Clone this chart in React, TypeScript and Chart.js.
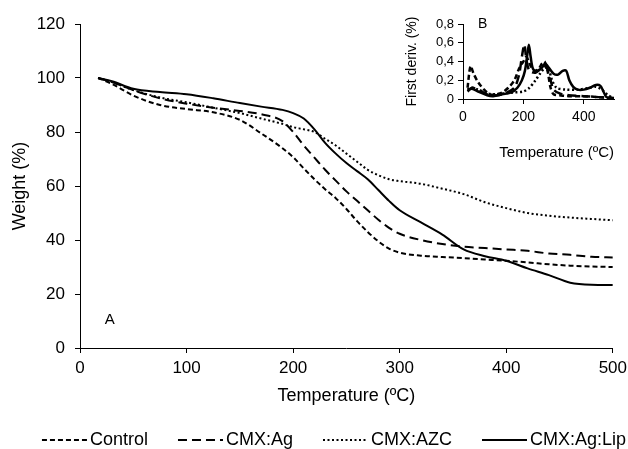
import React, { useEffect, useRef } from "react";
import { Chart, registerables } from "chart.js";

Chart.register(...registerables);

const FONT = "'Liberation Sans', Arial, Helvetica, sans-serif";

// ---- Main TGA chart (A) ----
const temps = [17, 30, 50, 75, 100, 125, 150, 170, 190, 200, 210, 220, 230, 240, 250, 260, 270, 280, 290, 300, 320, 340, 360, 380, 400, 420, 440, 460, 480, 500];
const control = [100, 97.8, 93.5, 90, 88.5, 87.3, 84.5, 79.5, 74, 70.7, 66.5, 62.5, 58.8, 55.5, 51.5, 47, 43, 39.5, 36.8, 35.3, 34.2, 33.7, 33.3, 32.8, 32.3, 31.7, 31, 30.5, 30.2, 30];
const cmxAg = [100, 98.5, 95.5, 92.5, 90.5, 89, 87.8, 86.6, 84, 80, 75, 70.5, 66, 62, 58, 54.5, 51, 47.5, 44.5, 42.3, 40, 38.5, 37.5, 37, 36.5, 36, 35, 34.5, 33.8, 33.5];
const cmxAzc = [100, 98.5, 95.5, 92.8, 91, 89, 87, 85, 83, 81.8, 81, 80, 77.5, 75, 72, 69, 66, 64, 62.5, 61.8, 60.8, 59, 57, 54, 51.8, 50, 49, 48.3, 47.8, 47.3];
const cmxAgLip = [100, 98.8, 96, 94.8, 94, 92.5, 90.7, 89.4, 88.2, 87, 85, 81, 76, 72, 68.5, 65.5, 62.5, 58.5, 54.5, 51, 46.5, 42, 36.5, 34, 32.3, 29.5, 27, 24.2, 23.4, 23.3];

const seriesLabels = ["Control", "CMX:Ag", "CMX:AZC", "CMX:Ag:Lip"];
const mainXTicks = [0, 100, 200, 300, 400, 500];
const mainYTicks = [0, 20, 40, 60, 80, 100, 120];

// ---- Inset derivative chart (B) ----
const dControlT = [15, 25, 35, 50, 70, 90, 110, 130, 150, 170, 185, 200, 210, 220, 235, 250, 262, 270, 280, 290, 300, 320, 350, 400, 450, 500];
const dControlV = [0.12, 0.35, 0.27, 0.18, 0.1, 0.05, 0.05, 0.07, 0.12, 0.2, 0.32, 0.4, 0.45, 0.38, 0.3, 0.32, 0.38, 0.4, 0.3, 0.12, 0.05, 0.04, 0.03, 0.03, 0.02, 0.01];
const dAgT = [15, 30, 50, 80, 110, 140, 170, 185, 195, 203, 210, 220, 240, 260, 275, 290, 300, 320, 350, 400, 450, 500];
const dAgV = [0.08, 0.12, 0.1, 0.05, 0.04, 0.06, 0.12, 0.25, 0.45, 0.58, 0.42, 0.3, 0.28, 0.33, 0.35, 0.2, 0.1, 0.06, 0.04, 0.03, 0.02, 0.01];
const dAzcT = [15, 30, 50, 80, 110, 140, 170, 200, 220, 240, 255, 270, 282, 295, 310, 340, 380, 420, 440, 460, 480, 500];
const dAzcV = [0.1, 0.12, 0.1, 0.06, 0.05, 0.06, 0.07, 0.08, 0.12, 0.2, 0.27, 0.33, 0.33, 0.2, 0.12, 0.1, 0.1, 0.12, 0.13, 0.1, 0.04, 0.01];
const dLipT = [15, 30, 50, 80, 100, 130, 160, 180, 195, 205, 212, 218, 224, 232, 245, 260, 272, 285, 300, 315, 330, 342, 352, 365, 380, 400, 420, 440, 455, 465, 475, 490, 500];
const dLipV = [0.1, 0.11, 0.08, 0.04, 0.03, 0.05, 0.07, 0.12, 0.2, 0.3, 0.45, 0.58, 0.45, 0.32, 0.3, 0.33, 0.38, 0.33, 0.27, 0.26, 0.3, 0.3, 0.2, 0.13, 0.1, 0.1, 0.12, 0.15, 0.14, 0.08, 0.02, 0.01, 0];
const insetXTicks = [0, 200, 400];
const insetYTicks = [0, 0.2, 0.4, 0.6, 0.8];

const dashes = [[5, 3], [9, 5], [2, 2.5], []];

const toXY = (xs: number[], ys: number[]) => xs.map((x, i) => ({ x, y: ys[i] }));

const legendPlugin = {
  id: "customLegend",
  afterDraw(chart: any) {
    const ctx = chart.ctx;
    ctx.save();
    ctx.font = `18px ${FONT}`;
    ctx.textBaseline = "middle";
    const L = 45, G = 3, S = 30;
    const items = chart.data.datasets.map((ds: any) => ({
      label: ds.label,
      dash: ds.borderDash || [],
      w: ctx.measureText(ds.label).width,
    }));
    const total = items.reduce((a: number, it: any) => a + L + G + it.w, 0) + S * (items.length - 1);
    let x = 334 - total / 2;
    const y = 440;
    items.forEach((it: any) => {
      ctx.beginPath();
      ctx.setLineDash(it.dash);
      ctx.lineWidth = 2;
      ctx.strokeStyle = "#000";
      ctx.moveTo(x, y);
      ctx.lineTo(x + L, y);
      ctx.stroke();
      ctx.setLineDash([]);
      ctx.fillStyle = "#000";
      ctx.textAlign = "left";
      ctx.fillText(it.label, x + L + G, y);
      x += L + G + it.w + S;
    });
    ctx.restore();
  },
};

const panelLabel = (id: string, text: string, xv: number, yv: number, size: number) => ({
  id,
  afterDraw(chart: any) {
    const ctx = chart.ctx;
    const px = chart.scales.x.getPixelForValue(xv);
    const py = chart.scales.y.getPixelForValue(yv);
    ctx.save();
    ctx.font = `${size}px ${FONT}`;
    ctx.fillStyle = "#000";
    ctx.textAlign = "center";
    ctx.textBaseline = "middle";
    ctx.fillText(text, px, py);
    ctx.restore();
  },
});

export default function App() {
  const mainRef = useRef<HTMLCanvasElement>(null);
  const insetRef = useRef<HTMLCanvasElement>(null);

  useEffect(() => {
    Chart.defaults.font.family = FONT;
    Chart.defaults.color = "#000";

    const mainSeries = [control, cmxAg, cmxAzc, cmxAgLip];
    const main = new Chart(mainRef.current!, {
      type: "line",
      data: {
        datasets: mainSeries.map((vals, i) => ({
          label: seriesLabels[i],
          data: toXY(temps, vals),
          borderColor: "#000",
          backgroundColor: "#000",
          borderWidth: 2,
          borderDash: dashes[i],
          pointRadius: 0,
          cubicInterpolationMode: "monotone" as const,
          fill: false,
        })),
      },
      options: {
        responsive: false,
        animation: false,
        events: [],
        layout: { padding: { left: 0, right: 15, top: 24, bottom: 0 } },
        plugins: { legend: { display: false }, tooltip: { enabled: false } },
        scales: {
          x: {
            type: "linear",
            min: 0,
            max: 500,
            afterBuildTicks: (s: any) => { s.ticks = mainXTicks.map((v) => ({ value: v })); },
            ticks: { font: { size: 17 }, padding: 5, color: "#000", autoSkip: false, maxRotation: 0 },
            grid: { drawOnChartArea: false, drawTicks: true, tickLength: 5, color: "#000" },
            border: { color: "#000", width: 1 },
            title: { display: true, text: "Temperature (ºC)", font: { size: 18 }, color: "#000", padding: { top: 0, bottom: 42 } },
            afterFit: (s: any) => { s.height = 101; },
          },
          y: {
            type: "linear",
            min: 0,
            max: 120,
            afterBuildTicks: (s: any) => { s.ticks = mainYTicks.map((v) => ({ value: v })); },
            ticks: { font: { size: 17 }, padding: 10, color: "#000", autoSkip: false },
            grid: { drawOnChartArea: false, drawTicks: true, tickLength: 5, color: "#000" },
            border: { color: "#000", width: 1 },
            title: { display: true, text: "Weight (%)", font: { size: 18 }, color: "#000", padding: { top: 9, bottom: 0 } },
            afterFit: (s: any) => { s.width = 80; },
          },
        },
      },
      plugins: [legendPlugin, panelLabel("labelA", "A", 28, 10.3, 15)],
    });

    const insetSeries = [
      toXY(dControlT, dControlV),
      toXY(dAgT, dAgV),
      toXY(dAzcT, dAzcV),
      toXY(dLipT, dLipV),
    ];
    const inset = new Chart(insetRef.current!, {
      type: "line",
      data: {
        datasets: insetSeries.map((d, i) => ({
          label: seriesLabels[i],
          data: d,
          borderColor: "#000",
          borderWidth: 2.5,
          borderDash: dashes[i],
          pointRadius: 0,
          tension: 0.3,
          fill: false,
        })),
      },
      options: {
        responsive: false,
        animation: false,
        events: [],
        layout: { padding: { left: 0, right: 14, top: 24, bottom: 0 } },
        plugins: { legend: { display: false }, tooltip: { enabled: false } },
        scales: {
          x: {
            type: "linear",
            min: 0,
            max: 500,
            afterBuildTicks: (s: any) => { s.ticks = insetXTicks.map((v) => ({ value: v })); },
            ticks: { font: { size: 14 }, padding: 5, color: "#000", autoSkip: false, maxRotation: 0 },
            grid: { drawOnChartArea: false, drawTicks: true, tickLength: 5, color: "#000" },
            border: { color: "#000", width: 1 },
            title: { display: true, text: "Temperature (ºC)", align: "end", font: { size: 15 }, color: "#000", padding: { top: 0, bottom: 8 } },
            afterFit: (s: any) => { s.height = 71; },
          },
          y: {
            type: "linear",
            min: 0,
            max: 0.8,
            afterBuildTicks: (s: any) => { s.ticks = insetYTicks.map((v) => ({ value: v })); },
            ticks: {
              font: { size: 13 },
              padding: 4,
              color: "#000",
              autoSkip: false,
              callback: (v: any) => (Number(v) === 0 ? "0" : Number(v).toFixed(1).replace(".", ",")),
            },
            grid: { drawOnChartArea: false, drawTicks: true, tickLength: 5, color: "#000" },
            border: { color: "#000", width: 1 },
            title: { display: true, text: "First deriv. (%)", font: { size: 14 }, color: "#000", padding: { top: 9, bottom: 0 } },
            afterFit: (s: any) => { s.width = 68; },
          },
        },
      },
      plugins: [panelLabel("labelB", "B", 65, 0.8, 14)],
    });

    return () => {
      main.destroy();
      inset.destroy();
    };
  }, []);

  return (
    <div style={{ position: "absolute", left: 0, top: 0, width: 628, height: 449, background: "#fff", overflow: "hidden" }}>
      <canvas ref={mainRef} width={632} height={449} style={{ position: "absolute", left: 0, top: 0, display: "block" }} />
      <canvas ref={insetRef} width={233} height={170} style={{ position: "absolute", left: 395, top: 0, display: "block" }} />
    </div>
  );
}
